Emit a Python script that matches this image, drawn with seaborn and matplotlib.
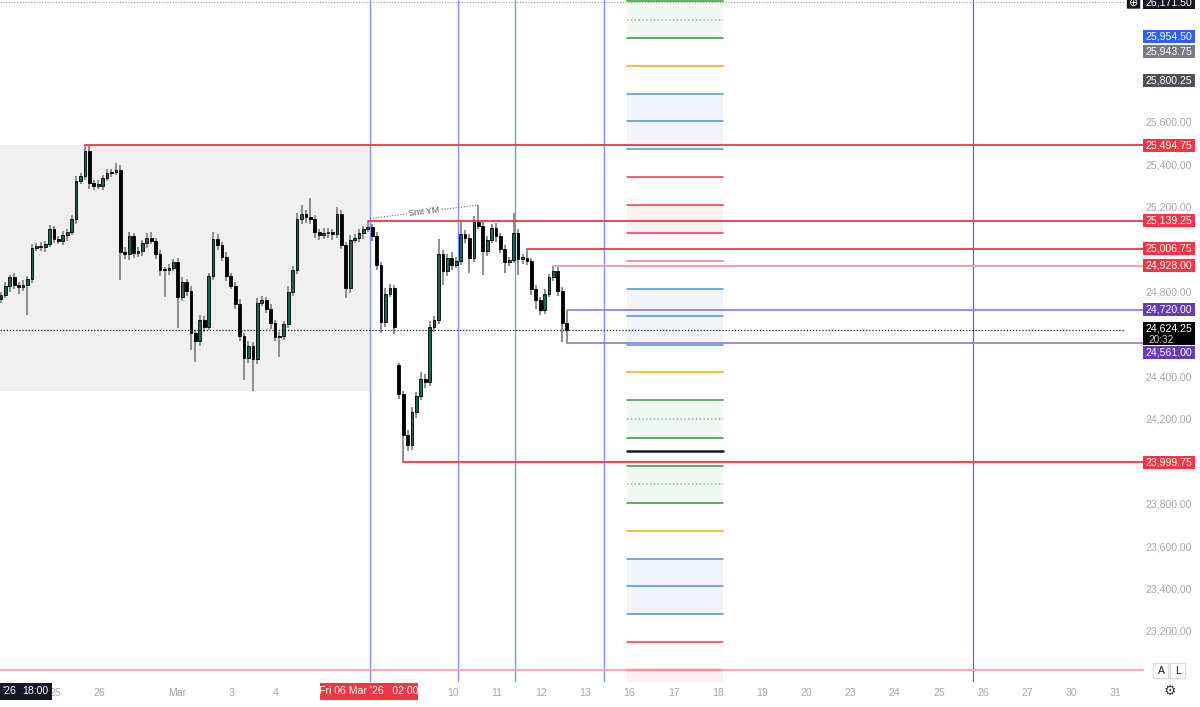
import matplotlib
matplotlib.use("Agg")
import matplotlib.pyplot as plt
from matplotlib.patches import Rectangle, FancyBboxPatch
import numpy as np
import pandas as pd
import seaborn as sns

# ---------------- data ----------------
first_open = 24770.0
closes = [24790, 24830, 24875, 24835, 24825, 24835, 24865, 25010, 25020, 25015,
          25030, 25100, 25055, 25045, 25070, 25085, 25145, 25325, 25350, 25470,
          25315, 25305, 25305, 25340, 25365, 25370, 25380, 24990, 24980, 25065,
          24985, 24995, 25035, 25060, 25045, 24980, 24905, 24905, 24915, 24945,
          24780, 24850, 24810, 24610, 24570, 24670, 24640, 24880, 25055, 25025,
          24970, 24880, 24830, 24745, 24595, 24490, 24550, 24485, 24750, 24765,
          24725, 24655, 24590, 24595, 24650, 24805, 24905, 25145, 25170, 25155,
          25145, 25085, 25070, 25080, 25085, 25075, 25170, 25025, 24820, 25050,
          25060, 25080, 25100, 25110, 25065, 24930, 24660, 24795, 24820, 24640,
          24320, 24130, 24080, 24235, 24315, 24395, 24380, 24640, 24670, 24980,
          24900, 24965, 24930, 24950, 25075, 25060, 24965, 25135, 25115, 24995,
          25050, 25105, 25065, 25005, 24945, 24955, 25080, 24960, 24965, 24950,
          24815, 24765, 24720, 24795, 24875, 24900, 24810, 24655, 24624.25]
wick_up = [15, 20, 10, 20, 15, 25, 15, 20, 15, 20,
           15, 20, 15, 10, 20, 15, 20, 25, 15, 24.75,
           20, 15, 25, 15, 20, 15, 30, 20, 25, 20,
           15, 20, 15, 20, 25, 15, 20, 15, 20, 15,
           20, 25, 15, 20, 15, 25, 20, 15, 30, 20,
           15, 20, 15, 20, 25, 15, 20, 15, 25, 20,
           15, 20, 15, 20, 15, 25, 20, 30, 45, 20,
           90, 20, 15, 25, 20, 15, 35, 20, 15, 20,
           15, 20, 15, 29.25, 15, 20, 15, 25, 20, 15,
           8, 15, 20, 25, 15, 30, 20, 25, 20, 75,
           20, 15, 25, 20, 65, 20, 15, 25, 80, 20,
           15, 20, 25, 15, 20, 15, 95, 20, 15, 41.75,
           15, 20, 15, 20, 15, 28, 20, 15, 65]
wick_dn = [20, 15, 25, 20, 30, 15, 140, 20, 15, 20,
           25, 15, 20, 15, 20, 25, 15, 20, 15, 20,
           25, 20, 15, 20, 15, 20, 15, 130, 20, 25,
           20, 15, 20, 25, 15, 20, 25, 125, 20, 15,
           145, 20, 25, 80, 95, 20, 25, 15, 20, 25,
           20, 25, 15, 20, 25, 100, 20, 148, 20, 15,
           20, 25, 20, 95, 20, 15, 20, 15, 20, 25,
           20, 25, 20, 15, 20, 25, 15, 20, 45, 20,
           15, 20, 25, 15, 20, 25, 50, 20, 15, 35,
           20, 130.25, 25, 20, 25, 20, 30, 20, 25, 20,
           65, 20, 25, 15, 20, 25, 70, 20, 15, 110,
           20, 15, 25, 20, 50, 20, 15, 75, 25, 20,
           25, 40, 25, 20, 15, 20, 25, 90, 63.25]
gap_open = {90: 24460.0}          # weekend gap open

first_bar_day = -1.222             # day index of first bar (0 = Feb 25)
bars_per_day = 10

session_lines = [7.127, 9.118, 10.407, 12.42]   # blue verticals (days)
month_end_line = 20.77

level_prices = [25494.75, 25139.25, 25006.75, 24928.00, 24720.00, 24561.00, 23999.75]
level_start_bar = [19, 83, 119, 125, 128, 128, 91]
level_labels = ["25,494.75", "25,139.25", "25,006.75", "24,928.00", "24,720.00", "24,561.00", "23,999.75"]

current_price = 24624.25
current_label = "24,624.25"
countdown = "20:32"
top_price = 26171.50
bottom_line_price = 23021.0

fib_prices = [26175, 26086, 26001, 25869, 25737, 25609, 25477, 25345, 25213, 25081,
              24949, 24817, 24690, 24553, 24426, 24294, 24204, 24115, 24053, 23983,
              23898, 23808, 23676, 23544, 23417, 23285, 23153, 23021]
fib_kinds = ['g', 'gd', 'g', 'o', 'b', 'b', 'b', 'r', 'r', 'r',
             'p', 'b', 'b', 'b', 'o', 'g', 'gd', 'g', 'k', 'g',
             'gd', 'g', 'o', 'b', 'b', 'b', 'r', 'R']
fib_zones = [(26001, 26175, 'g'), (25477, 25737, 'b'), (25081, 25213, 'r'),
             (24553, 24817, 'b'), (24115, 24294, 'g'), (23808, 23983, 'g'),
             (23285, 23544, 'b'), (22964, 23021, 'r')]
fib_day_range = (12.94, 15.11)

extra_label_text = ["26,171.50", "25,954.50", "25,943.75", "25,800.25"]
extra_label_price = [26171.50, 25954.50, 25943.75, 25800.25]

ytick_vals = [25600, 25400, 25200, 24800, 24400, 24200, 23800, 23600, 23400, 23200]
xtick_days = [0, 1, 2.77, 4, 5, 9, 10, 11, 12, 13, 14, 15, 16, 17, 18, 19, 20, 21, 22, 23, 24]
xtick_text = ['25', '26', 'Mar', '3', '4', '10', '11', '12', '13', '16', '17', '18',
              '19', '20', '23', '24', '25', '26', '27', '30', '31']

smt_days = [7.13, 9.57]
smt_prices = [25150, 25213]
smt_text = "Smt YM"

cursor_left_year = "'26"
cursor_left_time = "18:00"
cursor_date_red = "Fri 06 Mar '26   02:00"

# ---------------- style ----------------
sns.set_theme(style="white")
plt.rcParams['font.family'] = ['Liberation Sans', 'DejaVu Sans']

W, H = 1200, 707
AX_R, AX_B = 1125, 682
FS = 7.6
fig = plt.figure(figsize=(W / 100, H / 100), dpi=100)
fig.patch.set_facecolor('white')
ax = fig.add_axes([0, (H - AX_B) / H, AX_R / W, AX_B / H])
XL = (-1.244, 24.21)
YL = (22964, 26180)
ax.set_xlim(*XL)
ax.set_ylim(*YL)
ax.set_facecolor('white')
for s in ax.spines.values():
    s.set_visible(False)
ax.set_yticks([])
ax.grid(False)

def day_of_px(px):
    return XL[0] + px / AX_R * (XL[1] - XL[0])

X_EXT = day_of_px(1143)

# ---------------- candles ----------------
df = pd.DataFrame({'close': closes, 'wu': wick_up, 'wd': wick_dn})
df['open'] = [first_open] + closes[:-1]
for k, v in gap_open.items():
    df.loc[k, 'open'] = v
df['day'] = first_bar_day + np.arange(len(df)) / bars_per_day
df['high'] = df[['open', 'close']].max(axis=1) + df['wu']
df['low'] = df[['open', 'close']].min(axis=1) - df['wd']
df['up'] = df['close'] >= df['open']

# gray range box (before first session line)
pre = df[df['day'] < session_lines[0]]
ax.add_patch(Rectangle((XL[0], pre['low'].min()), session_lines[0] - XL[0],
                       pre['high'].max() - pre['low'].min(),
                       facecolor='#f0f0f0', edgecolor='none', zorder=0))

ax.vlines(df['day'], df['low'], df['high'], color='#7c7c7c', lw=1.2, zorder=3)
body_bottom = df[['open', 'close']].min(axis=1)
body_h = (df['close'] - df['open']).abs().clip(lower=6)
colors = np.where(df['up'], '#1b6356', '#000000')
ax.bar(df['day'], body_h, bottom=body_bottom, width=0.062, color=colors,
       edgecolor='#000000', linewidth=0.6, zorder=4)

# ---------------- vertical lines ----------------
for d in session_lines:
    ax.axvline(d, color='#6a8cfc', lw=1.0, zorder=2, alpha=0.9)
ax.axvline(month_end_line, color='#5c67b8', lw=0.9, zorder=2)

# ---------------- fib projection ----------------
fill_col = {'g': '#f1f8f1', 'b': '#f1f5fb', 'r': '#fdf0f1'}
d0, d1 = fib_day_range
for lo, hi, k in fib_zones:
    ax.fill_between([d0, d1], lo, hi, color=fill_col[k], lw=0, zorder=1)
kind_style = {
    'g': dict(color='#43a047', lw=1.2, ls='-'),
    'gd': dict(color='#7cc47f', lw=1.1, ls=(0, (1, 1.5))),
    'o': dict(color='#ffb74d', lw=1.5, ls='-'),
    'b': dict(color='#5b9bd5', lw=1.2, ls='-'),
    'r': dict(color='#f23645', lw=1.1, ls='-'),
    'p': dict(color='#f28c96', lw=1.3, ls='-'),
    'k': dict(color='#131722', lw=1.8, ls='-'),
    'R': dict(color='#ff1a1a', lw=1.6, ls='-'),
}
for p, k in zip(fib_prices, fib_kinds):
    st = kind_style[k]
    ax.plot([d0, d1], [p, p], color=st['color'], lw=st['lw'], ls=st['ls'], zorder=2)

# ---------------- horizontal lines ----------------
ax.plot([XL[0], XL[1]], [top_price, top_price], color='#9a9ca3', lw=0.8,
        ls=(0, (1, 1.5)), zorder=2)
ax.plot([XL[0], X_EXT], [bottom_line_price, bottom_line_price], color='#f4a2aa',
        lw=1.3, zorder=2, clip_on=False)
ax.plot([XL[0], XL[1]], [current_price, current_price], color='#131722', lw=0.9,
        ls=(0, (1, 1.5)), zorder=5)

line_cols = ['#f23645', '#f23645', '#f23645', '#f5959e', '#9a7ee0', '#9a7ee0', '#f23645']
for p, b, c in zip(level_prices, level_start_bar, line_cols):
    ax.plot([df['day'][b], X_EXT], [p, p], color=c, lw=1.3, zorder=6, clip_on=False)

# Smt YM annotation line
sns.lineplot(x=smt_days, y=smt_prices, ax=ax, color='#6b6b6b', lw=0.8,
             linestyle=(0, (1, 1.5)), zorder=6)
ax.text(np.mean(smt_days), np.mean(smt_prices) - 2, smt_text, fontsize=6.3,
        color='#555555', rotation=6.5, ha='center', va='center', zorder=7,
        bbox=dict(boxstyle='square,pad=0.15', fc='white', ec='none'))

# ---------------- x axis labels ----------------
ax.set_xticks(xtick_days)
ax.set_xticklabels(xtick_text)
ax.tick_params(axis='x', length=0, pad=4.5, labelsize=FS, labelcolor='#a3a6af')
ax.set_xlabel('')
ax.set_ylabel('')

# ---------------- right price labels ----------------
def ypix(price):
    return ax.transData.transform((0, price))[1]

def box_label(text, price, bg, dy=0, fg='white', h=13):
    yc = ypix(price) - dy
    fig.add_artist(Rectangle((1143 / W, (yc - h / 2) / H), 52 / W, h / H,
                             transform=fig.transFigure, facecolor=bg,
                             edgecolor='none', zorder=10))
    fig.text(1169 / W, yc / H, text, ha='center', va='center', color=fg,
             fontsize=FS, zorder=11)

for v in ytick_vals:
    fig.text(1169 / W, ypix(v) / H, f"{v:,.2f}", ha='center', va='center',
             color='#a3a6af', fontsize=FS)

label_bgs = ['#f23645', '#f23645', '#f23645', '#f23645', '#673ab7', '#673ab7', '#f23645']
label_dy = [0, 0, 0, 0, 0, 9, 0]
for t, p, bg, dy in zip(level_labels, level_prices, label_bgs, label_dy):
    box_label(t, p, bg, dy)

extra_bgs = ['#131722', '#2962ff', '#787b86', '#4e5057']
extra_dy = [1, -11, 1, 0]
for t, p, bg, dy in zip(extra_label_text, extra_label_price, extra_bgs, extra_dy):
    box_label(t, p, bg, dy)

# current price label (two lines)
yc = ypix(current_price) - 4
fig.add_artist(Rectangle((1143 / W, (yc - 11.5) / H), 52 / W, 23 / H,
                         transform=fig.transFigure, facecolor='#000000',
                         edgecolor='none', zorder=10))
fig.text(1169 / W, (yc + 5) / H, current_label, ha='center', va='center',
         color='white', fontsize=FS, zorder=11)
fig.text(1148 / W, (yc - 6) / H, countdown, ha='left', va='center',
         color='#d0d0d0', fontsize=7.2, zorder=11)

# plus icon at top
fig.add_artist(FancyBboxPatch((1128 / W, (H - 8) / H), 11 / W, 10 / H,
                              boxstyle='round,pad=0.001', transform=fig.transFigure,
                              facecolor='#131722', edgecolor='none', zorder=10))
fig.text(1133.5 / W, (H - 3) / H, "⊕", ha='center', va='center', color='white',
         fontsize=8, family='DejaVu Sans', zorder=11)

# A / L buttons and settings icon
for cx, t in [(1161, 'A'), (1178, 'L')]:
    fig.add_artist(FancyBboxPatch(((cx - 6.5) / W, (H - 678) / H), 13 / W, 14 / H,
                                  boxstyle='round,pad=0.001', transform=fig.transFigure,
                                  facecolor='white', edgecolor='#d6d8de', lw=0.8, zorder=10))
    fig.text(cx / W, (H - 671) / H, t, ha='center', va='center', color='#131722',
             fontsize=7.5, zorder=11)
fig.text(1170 / W, (H - 691) / H, "⚙", ha='center', va='center', color='#333333',
         fontsize=10, family='DejaVu Sans')

# ---------------- bottom cursor date labels ----------------
fig.add_artist(Rectangle((0, (H - 700) / H), 52 / W, 17 / H,
                         transform=fig.transFigure, facecolor='#131722',
                         edgecolor='none', zorder=10))
fig.text(2 / W, (H - 691.5) / H, cursor_left_year, ha='left', va='center',
         color='white', fontsize=FS, zorder=11)
fig.text(48 / W, (H - 691.5) / H, cursor_left_time, ha='right', va='center',
         color='white', fontsize=FS, zorder=11)
fig.add_artist(Rectangle((320 / W, (H - 700) / H), 98 / W, 17 / H,
                         transform=fig.transFigure, facecolor='#f23645',
                         edgecolor='none', zorder=10))
fig.text(369 / W, (H - 691.5) / H, cursor_date_red, ha='center', va='center',
         color='white', fontsize=FS, zorder=11)

fig.savefig('out.png', dpi=100, facecolor='white')
